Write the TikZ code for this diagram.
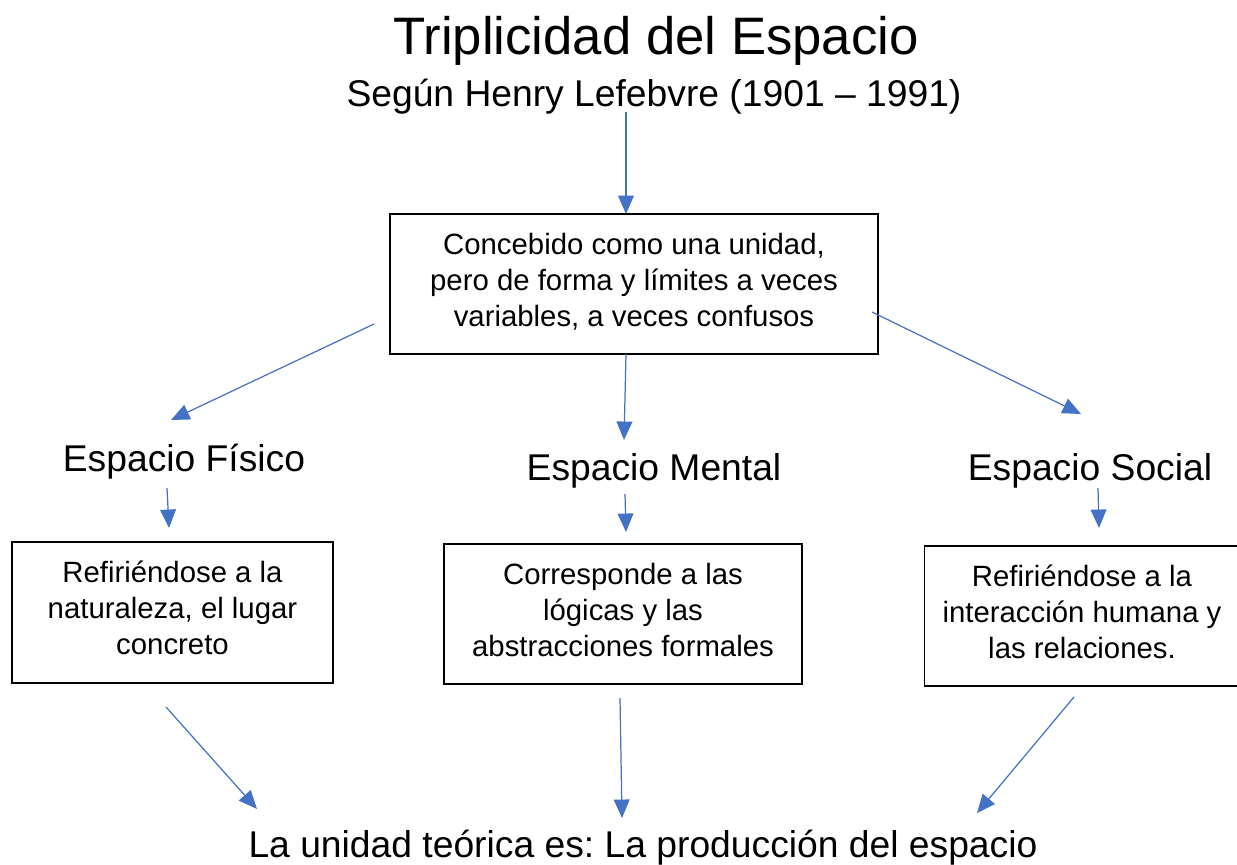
\documentclass[tikz,border=0pt]{standalone}
\usepackage{fontspec}
\setmainfont{Liberation Sans}
\frenchspacing
\usetikzlibrary{arrows.meta}
\definecolor{azul}{HTML}{4472C4}

\tikzset{
    flecha/.style={-{Triangle[length=10.5pt,width=9pt]}, azul, line width=0.7pt},
    caja/.style={draw, line width=0.85pt, align=center, inner sep=0pt, text depth=5pt,
        font=\fontsize{16.7}{20.5}\selectfont},
    encabezado/.style={anchor=base, font=\fontsize{21.2}{25}\selectfont},
}

\begin{document}
\begin{tikzpicture}[x=0.02cm, y=-0.02cm]
    \useasboundingbox (0,0) rectangle (1237,865);

    % Title
    \node[anchor=base, font=\fontsize{30}{34}\selectfont] (titulo) at (656,55) {Triplicidad del Espacio};
    \node[encabezado] (subtitulo) at (654,107) {Según Henry Lefebvre (1901 -- 1991)};

    % Central box
    \node[caja, minimum width=9.76cm, minimum height=2.8cm] (unidad) at (634,284)
        {Concebido como una unidad,\\pero de forma y límites a veces\\variables, a veces confusos};

    % The three spaces
    \node[encabezado] (fisico) at (184,471) {Espacio Físico};
    \node[encabezado] (mental) at (654,480) {Espacio Mental};
    \node[encabezado] (social) at (1090,480) {Espacio Social};

    \node[caja, minimum width=6.42cm, minimum height=2.82cm] (fisicobox) at (172.5,612.5)
        {Refiriéndose a la\\naturaleza, el lugar\\concreto};
    \node[caja, minimum width=7.16cm, minimum height=2.8cm] (mentalbox) at (623,614)
        {Corresponde a las\\lógicas y las\\abstracciones formales};
    \node[caja, minimum width=6.3cm, minimum height=2.8cm] (socialbox) at (1082,616)
        {Refiriéndose a la\\interacción humana y\\las relaciones.};

    % Result
    \node[encabezado] (produccion) at (643,857) {La unidad teórica es: La producción del espacio};

    % Arrow ends
    \coordinate (a1) at (626,112);   \coordinate (b1) at (626,214);
    \coordinate (a2) at (374,324);   \coordinate (b2) at (171,420);
    \coordinate (a3) at (626,354);   \coordinate (b3) at (624,440);
    \coordinate (a4) at (872,312);   \coordinate (b4) at (1081,414);
    \coordinate (a5) at (167,488);   \coordinate (b5) at (169,528);
    \coordinate (a6) at (625,494);   \coordinate (b6) at (626,532);
    \coordinate (a7) at (1098,488);  \coordinate (b7) at (1099,528);
    \coordinate (a8) at (166,707);   \coordinate (b8) at (257,809);
    \coordinate (a9) at (620,698);   \coordinate (b9) at (622,818);
    \coordinate (a10) at (1074,697); \coordinate (b10) at (977,813);

    % Arrows
    \foreach \i in {1,...,10}
        \draw[flecha] (a\i) -- (b\i);
\end{tikzpicture}
\end{document}
